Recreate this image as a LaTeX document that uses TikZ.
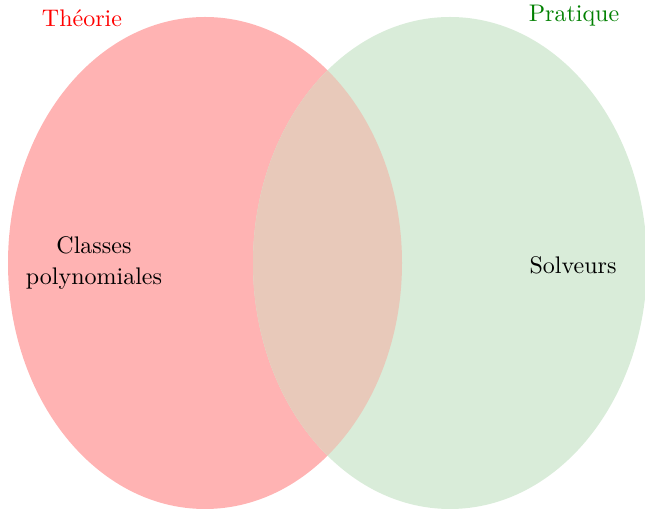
\documentclass[tikz,border=0pt]{standalone}
\definecolor{leftfill}{RGB}{255,179,179}
\definecolor{rightfill}{RGB}{217,236,217}
\definecolor{midfill}{RGB}{232,201,186}
\definecolor{praticol}{RGB}{0,128,0}
\tikzset{
  settext/.style={font=\normalsize, inner sep=0pt},
  labeltext/.style={settext, align=center}
}
\begin{document}
\begin{tikzpicture}[x=0.41667pt,y=-0.41667pt]
\useasboundingbox (0,0) rectangle (645,509);
\fill[leftfill] (205,263) ellipse [x radius=197, y radius=246];
\fill[rightfill] (450,263) ellipse [x radius=197, y radius=246];
\begin{scope}
\clip (205,263) ellipse [x radius=197, y radius=246];
\fill[midfill] (450,263) ellipse [x radius=197, y radius=246];
\end{scope}
\node[settext, text=red] (theorie) at (82,18) {Théorie};
\node[settext, text=praticol] (pratique) at (574,16) {Pratique};
\node[labeltext] (classes) at (94,263) {Classes\\[1.2pt]polynomiales};
\node[labeltext] (solveurs) at (573,265) {Solveurs};
\end{tikzpicture}
\end{document}
